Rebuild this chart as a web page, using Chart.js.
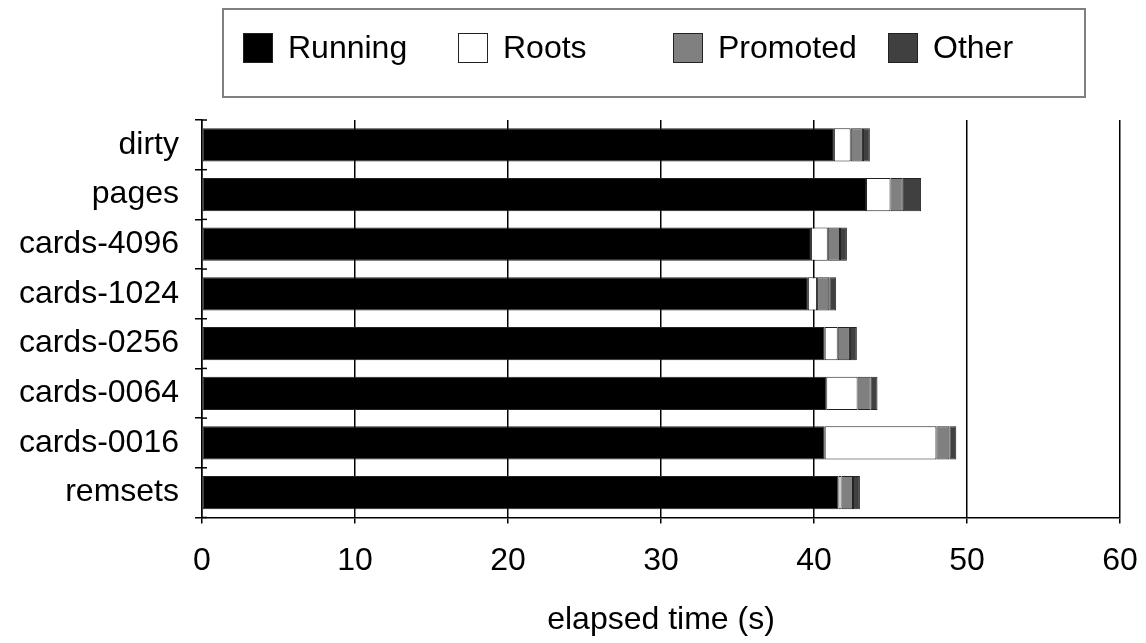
<!DOCTYPE html>
<html>
<head>
<meta charset="utf-8">
<script src="https://cdn.jsdelivr.net/npm/chart.js@4/dist/chart.umd.min.js"></script>
<style>
  html, body { margin: 0; padding: 0; background: #fff; }
  #wrap { width: 1146px; height: 643px; }
</style>
</head>
<body>
<div id="wrap"><canvas id="chart" width="1146" height="643"></canvas></div>
<script>
/* ── Data ── */
const CATEGORIES = ['dirty', 'pages', 'cards-4096', 'cards-1024', 'cards-0256', 'cards-0064', 'cards-0016', 'remsets'];
const RUNNING  = [41.3, 43.4, 39.8, 39.6, 40.7, 40.8, 40.7, 41.6];
const ROOTS    = [1.1, 1.6, 1.1, 0.6, 0.85, 2.05, 7.3, 0.2];
const PROMOTED = [0.8, 0.8, 0.8, 0.8, 0.8, 0.85, 0.85, 0.75];
const OTHER    = [0.45, 1.2, 0.45, 0.45, 0.45, 0.45, 0.45, 0.45];
const X_MIN = 0, X_MAX = 60, X_STEP = 10;
const X_TITLE = 'elapsed time (s)';

const FONT = { family: '"Liberation Sans", Arial, sans-serif', size: 32 };

/* ── Legend drawn in a box, fixed columns ── */
const boxLegend = {
  id: 'boxLegend',
  afterDraw(chart) {
    const ctx = chart.ctx;
    ctx.save();
    ctx.strokeStyle = '#808080';
    ctx.lineWidth = 2;
    ctx.strokeRect(223, 9, 862, 88);
    ctx.font = `${FONT.size}px ${FONT.family}`;
    ctx.textBaseline = 'middle';
    ctx.textAlign = 'left';
    chart.data.datasets.forEach((ds, i) => {
      const x = 243 + i * 215;
      ctx.fillStyle = ds.backgroundColor;
      ctx.fillRect(x, 33, 30, 30);
      ctx.strokeStyle = '#222';
      ctx.lineWidth = 1;
      ctx.strokeRect(x + 0.5, 33.5, 29, 29);
      ctx.fillStyle = '#000';
      ctx.fillText(ds.label, x + 45, 49);
    });
    ctx.restore();
  }
};

/* ── Cross ticks on the category axis (inner half) ── */
const crossTicks = {
  id: 'crossTicks',
  afterDraw(chart) {
    const { ctx, chartArea: a } = chart;
    const n = chart.data.labels.length;
    ctx.save();
    ctx.strokeStyle = '#000';
    ctx.lineWidth = 1.5;
    for (let i = 0; i <= n; i++) {
      const y = a.top + i * (a.bottom - a.top) / n;
      ctx.beginPath();
      ctx.moveTo(a.left, y);
      ctx.lineTo(a.left + 5, y);
      ctx.stroke();
    }
    ctx.restore();
  }
};

/* ── Chart ── */
const mkSet = (label, data, color) => ({
  label, data,
  backgroundColor: color,
  borderColor: '#222',
  borderWidth: 1,
  borderSkipped: false,
  barPercentage: 0.67,
  categoryPercentage: 1
});

new Chart(document.getElementById('chart').getContext('2d'), {
  type: 'bar',
  data: {
    labels: CATEGORIES,
    datasets: [
      mkSet('Running', RUNNING, '#000000'),
      mkSet('Roots', ROOTS, '#ffffff'),
      mkSet('Promoted', PROMOTED, '#808080'),
      mkSet('Other', OTHER, '#404040')
    ]
  },
  options: {
    indexAxis: 'y',
    responsive: false,
    animation: false,
    devicePixelRatio: 1,
    layout: { padding: { left: 0, top: 120, right: 26, bottom: 0 } },
    plugins: { legend: { display: false }, tooltip: { enabled: false } },
    scales: {
      x: {
        stacked: true,
        min: X_MIN, max: X_MAX,
        afterFit: s => { s.height = 125.5; s.paddingLeft = 0; s.paddingRight = 0; },
        ticks: { stepSize: X_STEP, color: '#000', font: FONT, padding: 18, maxRotation: 0 },
        grid: { color: '#000', lineWidth: 1.5, tickLength: 6 },
        border: { color: '#000', width: 1.5 },
        title: { display: true, text: X_TITLE, color: '#000', font: FONT, padding: { top: 0, bottom: 4 } }
      },
      y: {
        stacked: true,
        afterFit: s => { s.width = 202; },
        ticks: { color: '#000', font: FONT, padding: 16 },
        grid: { color: '#000', lineWidth: 1.5, tickLength: 7, drawOnChartArea: false, offset: true },
        border: { color: '#000', width: 1.5 }
      }
    }
  },
  plugins: [boxLegend, crossTicks]
});
</script>
</body>
</html>
